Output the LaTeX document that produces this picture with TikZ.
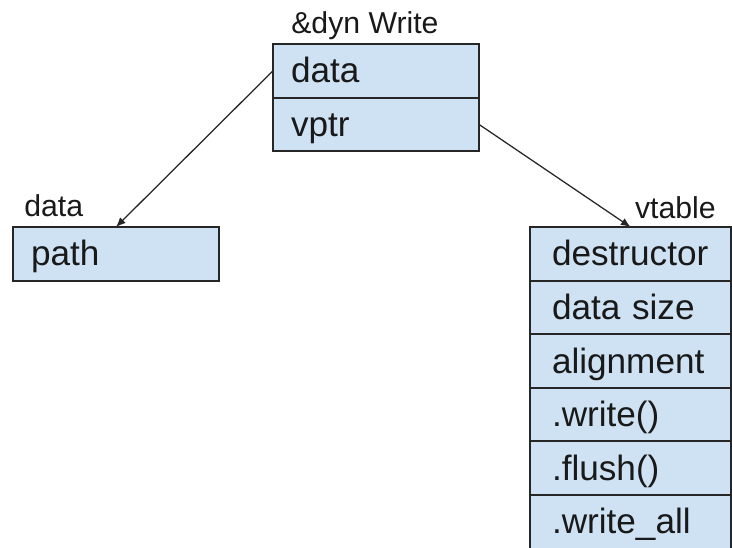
\documentclass[tikz,border=0pt]{standalone}
\usepackage{fontspec}
\setmainfont{Liberation Sans}
\usetikzlibrary{positioning, arrows.meta}
\definecolor{cellblue}{HTML}{CFE2F3}
\definecolor{edgegray}{HTML}{262626}
\tikzstyle{cell}=[rectangle, draw=edgegray, fill=cellblue, line width=1.4pt, outer sep=0pt,
  anchor=north west, minimum height=1.34cm, text width=4.25cm, inner xsep=0.45cm, inner ysep=0pt,
  text height=0.7cm, text depth=0.1cm, align=left, text=black!90, font=\fontsize{25}{30}\selectfont]
\tikzstyle{vcell}=[cell, text width=3.925cm, inner xsep=0.55cm]
\tikzstyle{lbl}=[inner sep=0pt, text=black!90, font=\fontsize{21.5}{26}\selectfont]
\tikzstyle{ptr}=[-{Latex[length=2.4mm, width=2mm]}, line width=0.9pt, draw=edgegray]

\begin{document}
\begin{tikzpicture}
			\useasboundingbox (0,0) rectangle (18.3,13.675);

			\node[cell] (dyndata) at (6.825,12.575) {data};
			\node[cell, below=0pt of dyndata] (dynvptr) {vptr};
			\node[lbl, anchor=base west] (dynlbl) at ([xshift=0.45cm, yshift=0.25cm]dyndata.north west) {\&dyn Write};

			\node[cell] (pathcell) at (0.325,8.0) {path};
			\node[lbl, anchor=base west] (datalbl) at ([xshift=0.275cm, yshift=0.25cm]pathcell.north west) {data};

			\node[vcell] (vdtor) at (13.25,8.0) {destructor};
			\node[vcell, below=0pt of vdtor] (vsize) {data size};
			\node[vcell, below=0pt of vsize] (valign) {alignment};
			\node[vcell, below=0pt of valign] (vwrite) {.write()};
			\node[vcell, below=0pt of vwrite] (vflush) {.flush()};
			\node[vcell, below=0pt of vflush] (vwall) {.write\_all};
			\node[lbl, anchor=base east] (vtlbl) at ([xshift=-0.375cm, yshift=0.2cm]vdtor.north east) {vtable};

			\path
			(dyndata.west) edge[ptr] (pathcell.north)
			(dynvptr.east) edge[ptr] (vdtor.north)
			;
		\end{tikzpicture}
\end{document}
